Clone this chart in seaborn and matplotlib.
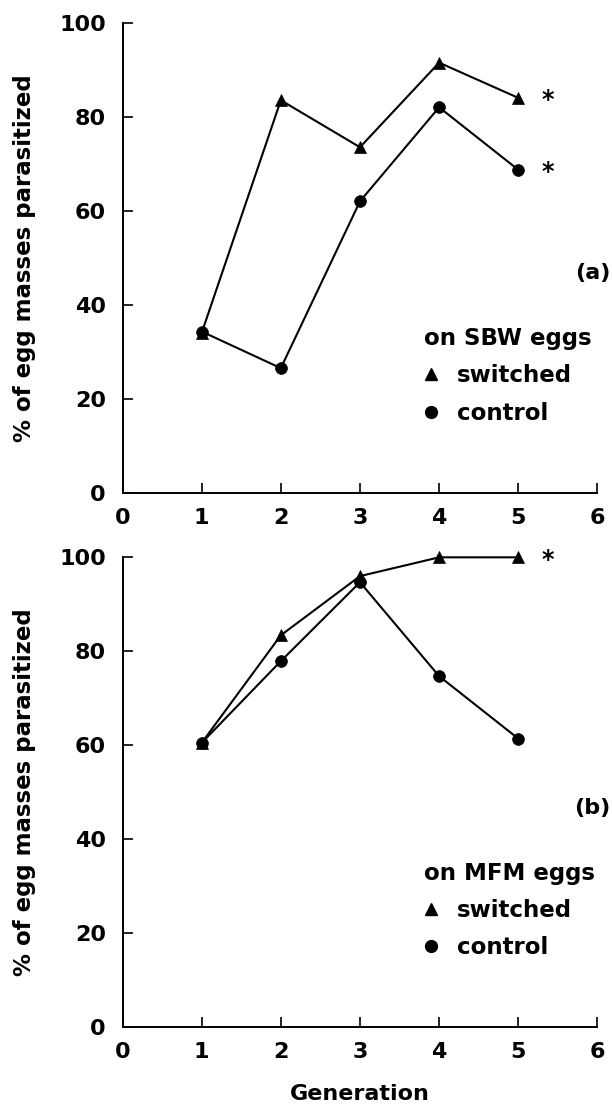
import numpy as np
import pandas as pd
import matplotlib
matplotlib.use("Agg")
import matplotlib.pyplot as plt
import seaborn as sns
from matplotlib.lines import Line2D

# values
generation = [1, 2, 3, 4, 5]
sbw_switched = [34.0, 83.5, 73.5, 91.5, 84.0]
sbw_control = [34.3, 26.5, 62.0, 82.0, 68.7]
mfm_switched = [60.5, 83.4, 96.0, 100.0, 100.0]
mfm_control = [60.5, 77.9, 94.7, 74.7, 61.4]

# generations marked as significant (*) per panel
sbw_signif = {"switched": 5, "control": 5}
mfm_signif = {"switched": 5}

x_ticks = [0, 1, 2, 3, 4, 5, 6]
y_ticks = [0, 20, 40, 60, 80, 100]
panels = [("(a)", "on SBW eggs", sbw_switched, sbw_control, sbw_signif),
          ("(b)", "on MFM eggs", mfm_switched, mfm_control, mfm_signif)]

sns.set_theme(style="ticks")
plt.rcParams["font.family"] = ["DejaVu Sans"]
plt.rcParams["font.weight"] = "bold"
for key in ["text.color", "axes.labelcolor", "xtick.color", "ytick.color", "axes.edgecolor"]:
    plt.rcParams[key] = "black"

FS = 16
fig = plt.figure(figsize=(6.12, 11.12), dpi=100)
ax_top = fig.add_axes([0.2002, 0.5569, 0.776, 0.4227])
ax_bot = fig.add_axes([0.2002, 0.0764, 0.776, 0.4224])

markers = {"switched": "^", "control": "o"}

for ax, (tag, title, sw, ct, signif) in zip([ax_top, ax_bot], panels):
    df = pd.DataFrame({
        "generation": generation * 2,
        "pct": sw + ct,
        "group": ["switched"] * len(sw) + ["control"] * len(ct),
    })
    sns.lineplot(data=df, x="generation", y="pct", style="group",
                 markers=markers, dashes=False, color="black",
                 linewidth=1.5, markersize=8.5, markeredgecolor="black",
                 markeredgewidth=0.5, legend=False, clip_on=False, ax=ax)

    lookup = {"switched": sw, "control": ct}
    for grp, gen in signif.items():
        ax.text(gen + 0.37, lookup[grp][generation.index(gen)], "*",
                fontsize=FS + 1, fontweight="bold", ha="center", va="center_baseline")

    ax.set_xlim(0, 6)
    ax.set_ylim(0, 100)
    ax.set_xticks(x_ticks)
    ax.set_yticks(y_ticks)
    ax.tick_params(direction="in", length=7, width=1.2, labelsize=FS)
    ax.tick_params(axis="x", pad=11)
    ax.tick_params(axis="y", pad=12)
    for lab in ax.get_xticklabels() + ax.get_yticklabels():
        lab.set_fontweight("bold")
    sns.despine(ax=ax)
    for side in ["left", "bottom"]:
        ax.spines[side].set_linewidth(1.4)

    ax.set_ylabel("% of egg masses parasitized", fontsize=16.5, fontweight="bold")
    ax.yaxis.set_label_coords(-0.183, 0.5)
    ax.set_xlabel("")

    ax.text(6.16, 46.7, tag, fontsize=FS, fontweight="bold", ha="right", va="center")

    handles = [Line2D([], [], linestyle="none", marker=markers[g], color="black",
                      markersize=8.5, label=g) for g in ["switched", "control"]]
    ax.legend(handles=handles, title=title, loc="upper left",
              bbox_to_anchor=(0.635, 0.352), frameon=False,
              prop={"size": FS + 0.5, "weight": "bold"},
              title_fontproperties={"size": FS + 0.5, "weight": "bold"},
              alignment="left", handlelength=0.6, handletextpad=0.85,
              labelspacing=0.62, borderpad=0, borderaxespad=0)

ax_bot.set_xlabel("Generation", fontsize=FS, fontweight="bold")
ax_bot.xaxis.set_label_coords(0.5, -0.121)

fig.savefig("out.png", dpi=100)
